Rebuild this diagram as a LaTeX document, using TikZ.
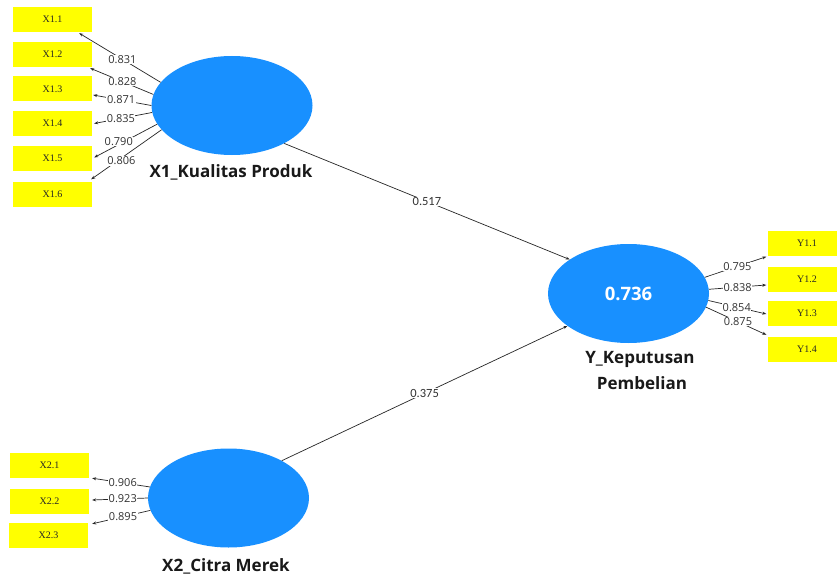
\documentclass[tikz,border=0pt]{standalone}
\usepackage{fontspec}
\setmainfont{Open Sans}
\newfontfamily\boxfont{Liberation Serif}
\newfontfamily\pathfont{Carlito}
\usetikzlibrary{shapes.geometric,arrows.meta,calc}
\definecolor{lvblue}{RGB}{24,144,255}
\definecolor{indyellow}{RGB}{255,255,0}
\definecolor{numgray}{RGB}{50,50,50}
\tikzset{
  latent/.style={ellipse,fill=lvblue,draw=none,minimum width=161pt,minimum height=99pt,inner sep=0pt,text=white,font=\bfseries\fontsize{18.5}{20}\selectfont},
  indbox/.style={rectangle,fill=indyellow,draw=none,minimum width=79pt,minimum height=25pt,inner sep=0pt,font=\boxfont\fontsize{10}{11}\selectfont,text=black!85},
  lvlabel/.style={font=\bfseries\fontsize{17}{19}\selectfont,text=black!90,align=center},
  arr/.style={draw=black!85,line width=0.7pt,-{Stealth[length=4pt,width=3pt]}},
  load/.style={fill=white,inner sep=0.6pt,font=\fontsize{11}{12}\selectfont,text=numgray},
  pathc/.style={fill=white,inner sep=0.8pt,font=\pathfont\fontsize{12.5}{14}\selectfont,text=numgray}
}
\begin{document}
\begin{tikzpicture}[x=1pt,y=-1pt]
\useasboundingbox (0,0) rectangle (837,575);
\clip (0,0) rectangle (837,575);
\fill[white] (0,0) rectangle (837,575);

% latent variables
\node[latent] (e1) at (232,105.5) {};
\node[latent] (e2) at (228.5,498) {};
\node[latent] (ey) at (628.5,293.5) {0.736};
\node[lvlabel] (l1) at (231,172) {X1\_Kualitas Produk};
\node[lvlabel] (l2) at (226,566) {X2\_Citra Merek};
\node[lvlabel] (ly1) at (640,359) {Y\_Keputusan};
\node[lvlabel] (ly2) at (642,383) {Pembelian};

% indicators X1
\node[indbox] (b11) at (52.5,19.5) {X1.1};
\node[indbox] (b12) at (52.5,54.5) {X1.2};
\node[indbox] (b13) at (52.5,89) {X1.3};
\node[indbox] (b14) at (52.5,123.5) {X1.4};
\node[indbox] (b15) at (52.5,158.5) {X1.5};
\node[indbox] (b16) at (52.5,194) {X1.6};
% indicators X2
\node[indbox] (b21) at (49.5,465.5) {X2.1};
\node[indbox] (b22) at (49.5,501) {X2.2};
\node[indbox] (b23) at (48.5,535.5) {X2.3};
% indicators Y
\node[indbox] (y1) at (807,243) {Y1.1};
\node[indbox] (y2) at (807,279.5) {Y1.2};
\node[indbox] (y3) at (807,313.5) {Y1.3};
\node[indbox] (y4) at (807,349.5) {Y1.4};

% arrow end points on the indicator boxes
\coordinate (t11) at ($(b11.south east)+(-13,1)$);
\coordinate (t12) at ($(b12.south east)+(-2,1)$);
\coordinate (t13) at ($(b13.east)+(1,6)$);
\coordinate (t14) at ($(b14.east)+(2,0)$);
\coordinate (t15) at ($(b15.east)+(2,-1)$);
\coordinate (t16) at ($(b16.north east)+(-1,-2)$);
\coordinate (t21) at ($(b21.south east)+(3,0)$);
\coordinate (t22) at ($(b22.east)+(3,-1)$);
\coordinate (t23) at ($(b23.north east)+(4,1)$);
\coordinate (ty1) at ($(y1.south west)+(-1,1)$);
\coordinate (ty2) at ($(y2.west)+(-1,5.5)$);
\coordinate (ty3) at ($(y3.west)+(-1,0.5)$);
\coordinate (ty4) at ($(y4.north west)+(-1,-2)$);

% outer loadings X1
\draw[arr] (e1.162.6) -- node[load,pos=0.47] {0.831} (t11);
\draw[arr] (e1.172.4) -- node[load,pos=0.49] {0.828} (t12);
\draw[arr] (e1.180) -- node[load,pos=0.52] {0.871} (t13);
\draw[arr] (e1.185.4) -- node[load,pos=0.54] {0.835} (t14);
\draw[arr] (e1.194.8) -- node[load,pos=0.61,yshift=3pt] {0.790} (t15);
\draw[arr] (e1.199) -- node[load,pos=0.57,yshift=-3pt] {0.806} (t16);
% outer loadings X2
\draw[arr] (e2.172) -- node[load,pos=0.47] {0.906} (t21);
\draw[arr] (e2.180) -- node[load,pos=0.45] {0.923} (t22);
\draw[arr] (e2.189.4) -- node[load,pos=0.47] {0.895} (t23);
% outer loadings Y
\draw[arr] (ey.12.2) -- node[load,pos=0.53] {0.795} (ty1);
\draw[arr] (ey.3.9) -- node[load,pos=0.5] {0.838} (ty2);
\draw[arr] (ey.-5.3) -- node[load,pos=0.49] {0.854} (ty3);
\draw[arr] (ey.-10.7) -- node[load,pos=0.53] {0.875} (ty4);

% path coefficients
\draw[arr] (e1.-36.3) -- node[pathc,pos=0.5] {0.517} (ey.150.3);
\draw[arr] (e2.35) -- node[pathc,pos=0.5] {0.375} (ey.208);
\end{tikzpicture}
\end{document}
